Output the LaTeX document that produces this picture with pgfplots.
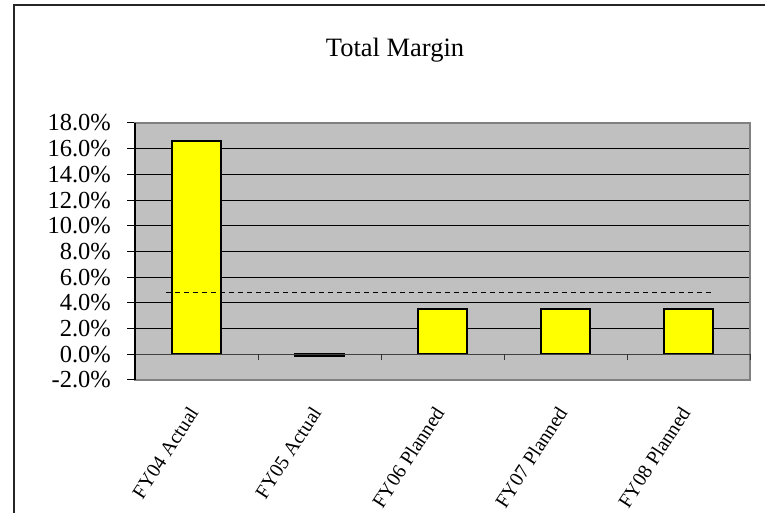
\documentclass[border=0pt]{standalone}
\usepackage{pgfplots}
\pgfplotsset{compat=1.18}
\usepackage{fontspec}
\setmainfont{Liberation Serif}
\definecolor{plotgray}{HTML}{C0C0C0}
\definecolor{bordergray}{HTML}{808080}
\definecolor{baryellow}{HTML}{FFFF00}
\begin{document}
\begin{tikzpicture}[x=1bp,y=1bp]
\useasboundingbox (0,0) rectangle (765,513);
\draw[line width=1.5bp, black!85] (14,-5) -- (14,508) -- (770,508);
\node[anchor=base, font=\fontsize{26.5bp}{28bp}\selectfont, inner sep=0pt] at (395,456) {Total Margin};
\begin{axis}[
  at={(135bp,133bp)}, anchor=south west,
  scale only axis, width=615bp, height=257bp,
  xmin=-0.5, xmax=4.5, ymin=-2, ymax=18,
  axis background/.style={fill=plotgray},
  axis line style={bordergray, line width=1.8bp},
  ytick={-2,0,2,4,6,8,10,12,14,16,18},
  yticklabels={-2.0\%,0.0\%,2.0\%,4.0\%,6.0\%,8.0\%,10.0\%,12.0\%,14.0\%,16.0\%,18.0\%},
  tick align=outside, ytick pos=left, xtick pos=bottom,
  major tick length=8bp,
  ytick style={black, line width=1bp},
  ymajorgrids, grid style={black, line width=0.9bp},
  xtick={0,1,2,3,4},
  xticklabels={FY04 Actual,FY05 Actual,FY06 Planned,FY07 Planned,FY08 Planned},
  xtick style={draw=none},
  yticklabel style={font=\fontsize{24.5bp}{26bp}\selectfont, inner sep=0pt, xshift=-16bp},
  xticklabel style={font=\fontsize{20bp}{22bp}\selectfont, yshift=-21bp, xshift=-3bp, rotate=57, anchor=east, inner sep=0pt},
  clip=false,
]
\addplot[ybar, bar width=0.4, fill=baryellow, draw=black, line width=2bp]
  coordinates {(0,16.6) (1,-0.1) (2,3.5) (3,3.5) (4,3.5)};
\addplot[black, line width=1.7bp, dash pattern=on 5bp off 4bp]
  coordinates {(-0.25,4.8) (4.2,4.8)};
\draw[black!75, line width=1.3bp] (axis cs:-0.5,0) -- (axis cs:4.5,0);
\draw[black!80, line width=1bp] (axis cs:0.5,0) -- ++(0bp,-6bp);
\draw[black!80, line width=1bp] (axis cs:1.5,0) -- ++(0bp,-6bp);
\draw[black!80, line width=1bp] (axis cs:2.5,0) -- ++(0bp,-6bp);
\draw[black!80, line width=1bp] (axis cs:3.5,0) -- ++(0bp,-6bp);
\draw[black!80, line width=1bp] (axis cs:4.5,0) -- ++(0bp,-6bp);
\draw[black, line width=1.5bp] (rel axis cs:0,0) -- (rel axis cs:0,1);
\end{axis}
\end{tikzpicture}
\end{document}
